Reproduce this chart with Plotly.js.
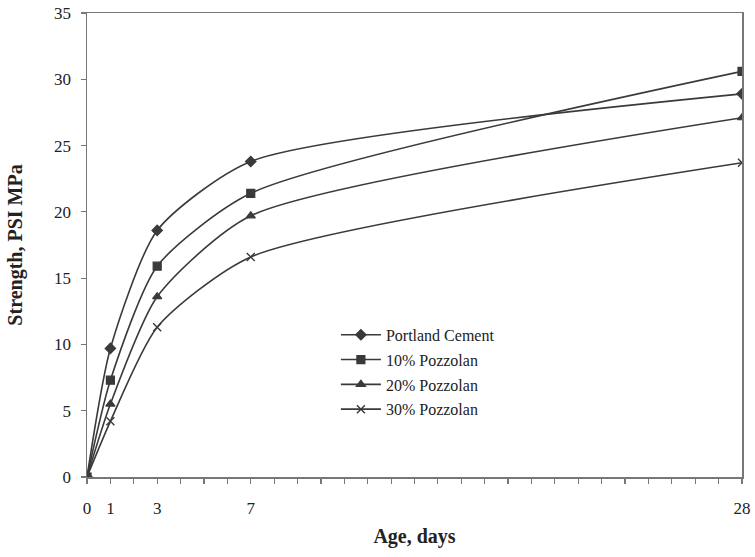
<!DOCTYPE html>
<html>
<head>
<meta charset="utf-8">
<script src="https://cdn.plot.ly/plotly-3.0.1.min.js"></script>
<style>
  html, body { margin: 0; padding: 0; background: #fff; }
  #chart { width: 755px; height: 557px; }
</style>
</head>
<body>
<div id="chart"></div>
<script>
// Compressive strength gain with age
const ageDays = [0, 1, 3, 7, 28];
const portlandCement = [0, 9.7, 18.6, 23.8, 28.9];
const pozzolan10 = [0, 7.3, 15.9, 21.4, 30.6];
const pozzolan20 = [0, 5.5, 13.6, 19.7, 27.1];
const pozzolan30 = [0, 4.2, 11.3, 16.6, 23.7];
const seriesNames = ['Portland Cement', '10% Pozzolan', '20% Pozzolan', '30% Pozzolan'];
const ageTickLabels = ['0', '1', '3', '7', '28'];

const ink = '#3a3a3a';
const serif = 'Liberation Serif, Times New Roman, serif';

function series(name, y, symbol, size) {
  return {
    x: ageDays, y: y, name: name, legendgroup: name, type: 'scatter', mode: 'lines+markers',
    line: { color: ink, width: 1.6, shape: 'spline', smoothing: 0.65 },
    marker: { symbol: symbol, size: size, color: ink, line: { color: ink, width: 1.2 } }
  };
}

const data = [
  series(seriesNames[0], portlandCement, 'diamond', 8),
  series(seriesNames[1], pozzolan10, 'square', 8),
  series(seriesNames[2], pozzolan20, 'triangle-up', 8),
  series(seriesNames[3], pozzolan30, 'x-thin', 8)
];
data[3].marker.line.width = 1.4;

const layout = {
  width: 755, height: 557,
  margin: { l: 87, r: 13, t: 13, b: 80 },
  paper_bgcolor: '#fff', plot_bgcolor: '#fff',
  font: { family: serif, color: '#222' },
  showlegend: true,
  legend: {
    x: 0.38, y: 0.343, xanchor: 'left', yanchor: 'top',
    bgcolor: 'rgba(0,0,0,0)', font: { family: serif, size: 16, color: '#222' },
    tracegroupgap: 1, itemwidth: 40
  },
  xaxis: {
    range: [0, 28], showgrid: false, zeroline: false,
    showline: true, linecolor: '#777', linewidth: 1.5, mirror: true,
    tickmode: 'array', tickvals: ageDays, ticktext: ageTickLabels,
    ticks: 'outside', ticklen: 5, tickcolor: '#777', tickwidth: 1.2,
    ticklabelstandoff: 10,
    minor: { tickmode: 'linear', tick0: 0, dtick: 1, ticks: 'outside', ticklen: 5, tickcolor: '#777', tickwidth: 1.2 },
    tickfont: { family: serif, size: 17, color: '#222' },
    title: { text: '<b>Age, days</b>', font: { family: serif, size: 20, color: '#222' }, standoff: 12 }
  },
  yaxis: {
    range: [0, 35], showgrid: false, zeroline: false,
    showline: true, linecolor: '#777', linewidth: 1.5, mirror: true,
    tickmode: 'linear', tick0: 0, dtick: 5,
    ticks: 'outside', ticklen: 5, tickcolor: '#777', tickwidth: 1.2,
    ticklabelstandoff: 6,
    tickfont: { family: serif, size: 17, color: '#222' },
    title: { text: '<b>Strength, PSI MPa</b>', font: { family: serif, size: 20, color: '#222' }, standoff: 26 }
  }
};

Plotly.newPlot('chart', data, layout, { displayModeBar: false, staticPlot: true });
</script>
</body>
</html>
